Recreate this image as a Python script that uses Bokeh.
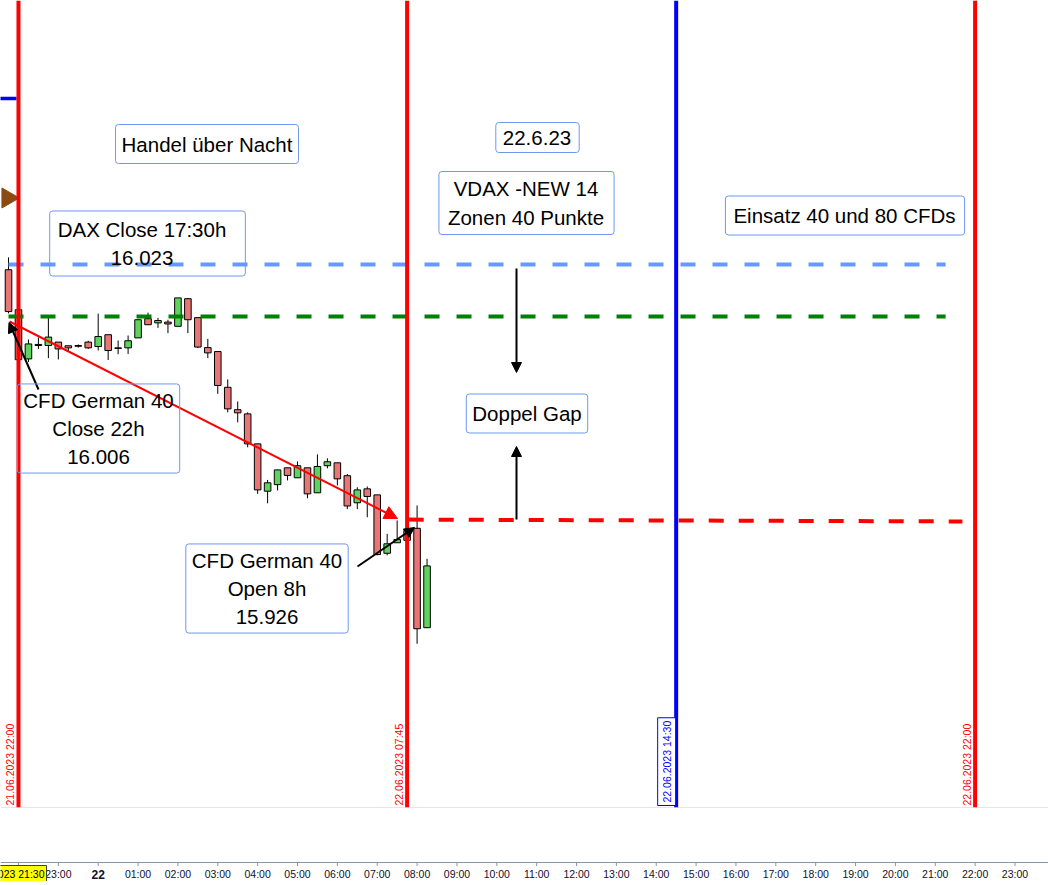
import math
from bokeh.plotting import figure
from bokeh.models import Range1d, Span, Label, Arrow, NormalHead
from bokeh.layouts import column
from bokeh.embed import file_html
from bokeh.resources import INLINE
from bokeh.core.properties import value

# ---------------- data ----------------
# 15-minute candles, time in hours relative to 22.06.2023 00:00
candle_time = [-2.25, -2.0, -1.75, -1.5, -1.25, -1.0, -0.75, -0.5, -0.25, 0.0,
               0.25, 0.5, 0.75, 1.0, 1.25, 1.5, 1.75, 2.0, 2.25, 2.5,
               2.75, 3.0, 3.25, 3.5, 3.75, 4.0, 4.25, 4.5, 4.75, 5.0,
               5.25, 5.5, 5.75, 6.0, 6.25, 6.5, 6.75, 7.0, 7.25, 7.5,
               7.75, 8.0, 8.25]
candle_open = [16021.0, 16005.8, 15987.1, 15992.6, 15992.2, 15993.5, 15992.1, 15992.2, 15993.5, 15991.8,
               15996.3, 15991.3, 15991.3, 15995.1, 16002.4, 16000.8, 16001.1, 15999.5, 16010.0, 16002.8,
               15991.4, 15989.9, 15976.3, 15967.8, 15966.2, 15954.8, 15936.8, 15939.3, 15945.7, 15941.9,
               15945.7, 15936.2, 15946.5, 15947.6, 15942.7, 15932.4, 15937.7, 15935.4, 15913.2, 15917.2,
               15921.9, 15922.7, 15884.9]
candle_high = [16025.7, 16006.6, 15994.5, 15995.2, 16003.6, 15993.5, 15992.1, 15992.6, 15994.0, 16004.3,
               15996.3, 15994.1, 15996.0, 16002.0, 16004.7, 16002.7, 16002.0, 16010.3, 16010.3, 16002.8,
               15994.7, 15989.9, 15979.3, 15970.9, 15966.8, 15954.8, 15941.1, 15944.9, 15945.7, 15948.1,
               15945.7, 15950.8, 15949.3, 15947.6, 15943.4, 15938.3, 15938.6, 15935.4, 15920.6, 15925.7,
               15922.6, 15931.4, 15911.1]
candle_low = [16004.4, 15986.1, 15985.9, 15990.9, 15987.4, 15986.9, 15990.1, 15991.4, 15990.9, 15990.3,
              15986.7, 15988.9, 15989.0, 15995.1, 16000.1, 15998.9, 15996.9, 15999.5, 15996.9, 15991.2,
              15987.4, 15973.8, 15966.8, 15963.0, 15953.5, 15935.8, 15932.2, 15937.1, 15940.9, 15941.9,
              15934.1, 15936.2, 15945.5, 15939.0, 15930.0, 15930.0, 15926.9, 15912.4, 15912.4, 15917.2,
              15917.7, 15878.8, 15884.9]
candle_close = [16005.1, 15986.8, 15992.8, 15992.2, 15995.4, 15990.9, 15991.3, 15991.9, 15991.3, 15995.6,
                15990.3, 15991.1, 15994.0, 16002.0, 16000.1, 16001.7, 16000.4, 16010.3, 16002.0, 15991.6,
                15989.4, 15977.0, 15968.1, 15966.6, 15954.8, 15937.3, 15940.0, 15944.9, 15942.8, 15946.5,
                15935.8, 15946.2, 15948.0, 15941.5, 15931.2, 15937.3, 15934.8, 15912.7, 15916.8, 15918.4,
                15918.1, 15884.5, 15908.4]

# horizontal levels (dashed lines): time span and price
dax_close_x = [-2.25, 21.26]
dax_close_y = [16023.0, 16023.0]
cfd_close_x = [-2.25, 21.26]
cfd_close_y = [16003.2, 16003.2]
cfd_open_x = [7.79, 21.68]
cfd_open_y = [15926.0, 15925.3]
prev_level_x = [-2.6, -2.05]
prev_level_y = [16086.1, 16086.1]
marker_x = [-2.27]
marker_y = [16048.3]

# vertical time markers
vline_time = [-2.0, 7.75, 14.5, 22.0]
vline_color = ["#ff0000", "#ff0000", "#0000ff", "#ff0000"]
vline_text = ["21.06.2023 22:00", "22.06.2023 07:45", "22.06.2023 14:30", "22.06.2023 22:00"]

# time axis
hour_ticks = [-2, -1, 1, 2, 3, 4, 5, 6, 7, 8, 9, 10, 11, 12, 13, 14, 15, 16, 17, 18, 19, 20, 21, 22, 23]
hour_labels = ["22:00", "23:00", "01:00", "02:00", "03:00", "04:00", "05:00", "06:00", "07:00", "08:00",
               "09:00", "10:00", "11:00", "12:00", "13:00", "14:00", "15:00", "16:00", "17:00", "18:00",
               "19:00", "20:00", "21:00", "22:00", "23:00"]
day_ticks = [0]
day_labels = ["22"]

# ---------------- helpers (reference pixel -> data) ----------------
PX0, PXH = 97.7, 39.86
P0, PY0, PYS = 16023.0, 264.0, 2.63
def hx(px):
    return (px - PX0) / PXH
def py(px):
    return P0 - (px - PY0) / PYS

FONT = "Liberation Sans"
W = 1048

p = figure(width=W, height=808, x_range=Range1d(hx(0), hx(1048)), y_range=Range1d(py(807), py(0)),
           output_backend="svg", toolbar_location=None, x_axis_location=None, y_axis_location=None,
           min_border_left=0, min_border_right=0, min_border_top=0, min_border_bottom=1,
           border_fill_color="#8d9baa", background_fill_color="white", outline_line_color=None)
p.grid.visible = False

# candles
up = [c >= o for o, c in zip(candle_open, candle_close)]
tops = [max(o, c) for o, c in zip(candle_open, candle_close)]
bots = [min(o, c) for o, c in zip(candle_open, candle_close)]
cols = ["#5ed35e" if u else "#e87677" for u in up]
p.segment(x0=candle_time, y0=candle_low, x1=candle_time, y1=candle_high, line_color="black", line_width=1)
p.vbar(x=candle_time, top=tops, bottom=bots, width=0.165, fill_color=cols, line_color="black", line_width=1)

# dashed levels
p.line(dax_close_x, dax_close_y, line_color="#6699ff", line_width=4, line_dash="15 17")
p.line(cfd_close_x, cfd_close_y, line_color="#008000", line_width=4, line_dash="15 17")
p.line(cfd_open_x, cfd_open_y, line_color="#ff0000", line_width=4, line_dash="15 15")
p.line(prev_level_x, prev_level_y, line_color="#0000ff", line_width=3.5)
p.scatter(marker_x, marker_y, marker="triangle", angle=-math.pi / 2, size=20,
          fill_color="#8B4A12", line_color="#8B4A12")

# vertical lines
for t, c in zip(vline_time, vline_color):
    p.add_layout(Span(location=t, dimension="height", line_color=c, line_width=4))

# vertical date labels
for t, c, txt in zip(vline_time, vline_color, vline_text):
    boxed = c == "#0000ff"
    p.add_layout(Label(x=t, y=2, y_units="screen", x_offset=-9.5 if boxed else -8,
                       text=txt, angle=math.pi / 2, text_align="left", text_baseline="middle",
                       text_font=FONT, text_font_size="10.5px", text_color=c,
                       background_fill_color="white" if boxed else None,
                       border_line_color=c if boxed else None, padding=3 if boxed else 0))

# arrows
p.add_layout(Arrow(end=NormalHead(size=13, fill_color="#ff0000", line_color="#ff0000"),
                   x_start=hx(9), y_start=py(321), x_end=hx(397), y_end=py(518),
                   line_color="#ff0000", line_width=2))
for (x0, y0, x1, y1) in [(38, 389, 8.5, 322), (357, 566, 414, 527), (516, 268, 516, 372), (516, 519, 516, 446)]:
    p.add_layout(Arrow(end=NormalHead(size=10, fill_color="black", line_color="black"),
                       x_start=hx(x0), y_start=py(y0), x_end=hx(x1), y_end=py(y1),
                       line_color="black", line_width=2))

# text boxes
def box(cx, cy, txt, pl, pr, pv, fill=True):
    p.add_layout(Label(x=hx(cx), y=py(cy), text=txt, text_align="center", text_baseline="middle",
                       text_font=FONT, text_font_size="20.5px", text_color="black",
                       text_line_height=1.22,
                       background_fill_color="white" if fill else None,
                       border_line_color="#6f96f0", border_line_width=1,
                       padding=dict(left=pl, right=pr, top=pv, bottom=pv), border_radius=3))

box(206.5, 143.5, "Handel über Nacht", 6, 6, 8)
box(537, 137, "22.6.23", 7, 8, 8)
box(526, 202.5, "VDAX -NEW 14\nZonen 40 Punkte", 9, 10, 6)
box(844.5, 215, "Einsatz 40 und 80 CFDs", 8, 9, 8)
box(147, 243, "DAX Close 17:30h\n16.023", 8, 19, 7, fill=False)
box(526.5, 413, "Doppel Gap", 6, 6, 8)
box(98, 428, "CFD German 40\nClose 22h\n16.006", 6, 6, 5, fill=False)
box(266.5, 588, "CFD German 40\nOpen 8h\n15.926", 6, 6, 5)

# ---------------- bottom panel with time axis (y in panel pixels, top=808) ----------------
b = figure(width=W, height=73, x_range=p.x_range, y_range=Range1d(881, 808),
           output_backend="svg", toolbar_location=None, x_axis_location=None, y_axis_location=None,
           min_border=0, border_fill_color="white", background_fill_color="white", outline_line_color=None)
b.grid.visible = False
AX = "#8696a5"
b.add_layout(Span(location=862, dimension="width", line_color=AX, line_width=1))
b.segment(x0=hour_ticks + day_ticks, y0=862, x1=hour_ticks + day_ticks, y1=865.5, line_color=AX, line_width=1)
b.text(x=hour_ticks, y=873.5, text=hour_labels, text_align="center", text_baseline="middle",
       text_font=value(FONT), text_font_size="10.5px", text_color="#101030")
b.text(x=day_ticks, y=873.5, text=day_labels, text_align="center", text_baseline="middle",
       text_font=value(FONT), text_font_size="12px", text_font_style="bold", text_color="#101030")
b.add_layout(Label(x=hx(46), y=873, text="21.06.2023 21:30", text_align="right",
                   text_baseline="middle", text_font=FONT, text_font_size="10.5px", text_color="black",
                   background_fill_color="#ffff00", border_line_color="#404040", padding=2))

bar = figure(width=W, height=4, output_backend="svg", toolbar_location=None,
             x_axis_location=None, y_axis_location=None, min_border=0,
             border_fill_color="#a3bac9", background_fill_color="#a3bac9", outline_line_color=None)
bar.grid.visible = False

layout = column(p, b, bar, spacing=0)
open("out.html", "w").write(file_html(layout, INLINE))
